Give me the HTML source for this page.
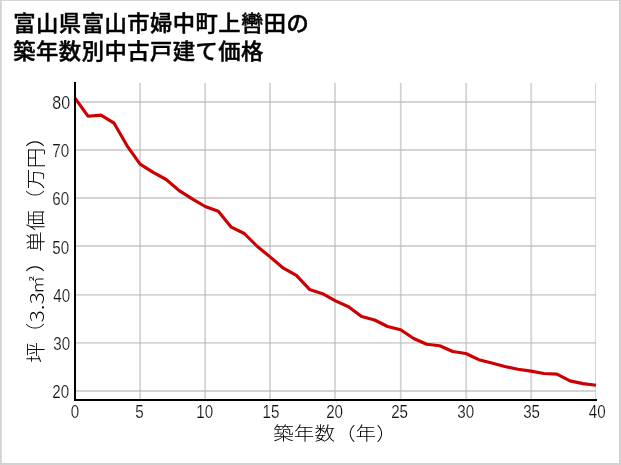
<!DOCTYPE html>
<html lang="ja">
<head>
<meta charset="utf-8">
<title>富山県富山市婦中町上轡田の築年数別中古戸建て価格</title>
<style>
html,body{margin:0;padding:0;background:#fff;}
body{width:621px;height:465px;overflow:hidden;position:relative;font-family:"Liberation Sans","Noto Sans CJK JP",sans-serif;}
h1{position:absolute;left:13.3px;top:10.8px;margin:0;font-family:"Liberation Sans","Noto Sans CJK JP",sans-serif;font-weight:500;font-size:22.3px;line-height:28.6px;color:#000;letter-spacing:0.48px;-webkit-text-stroke:0.45px #000;white-space:nowrap;transform-origin:0 0;transform:scaleY(0.95);}
svg{position:absolute;left:0;top:0;}
svg text{font-family:"Liberation Sans","Noto Sans CJK JP",sans-serif;}
.tick text{font-size:18.5px;fill:#111;stroke:#fff;stroke-width:0.18px;}
.lab{font-family:"Noto Sans CJK JP","Liberation Sans",sans-serif;font-size:20.6px;font-weight:300;fill:#000;}
</style>
</head>
<body>
<h1>富山県富山市婦中町上轡田の<br>築年数別中古戸建て価格</h1>
<svg width="621" height="465" viewBox="0 0 621 465">
<defs><clipPath id="cv"><rect x="75" y="80" width="521.6" height="322"/></clipPath><clipPath id="plot"><rect x="74" y="82.8" width="522" height="318.2"/></clipPath></defs>
<g fill="#d3d3d3">
<rect x="0" y="0" width="621" height="0.9"/>
<rect x="0" y="463" width="621" height="2"/>
<rect x="0" y="0" width="1.8" height="465"/>
<rect x="618.9" y="0" width="2.1" height="465"/>
</g>
<g stroke="#b7b7b7" stroke-opacity="0.6" stroke-width="1.85" fill="none" clip-path="url(#plot)"><line x1="140.10" y1="82.8" x2="140.10" y2="400"/><line x1="205.10" y1="82.8" x2="205.10" y2="400"/><line x1="270.00" y1="82.8" x2="270.00" y2="400"/><line x1="335.00" y1="82.8" x2="335.00" y2="400"/><line x1="400.80" y1="82.8" x2="400.80" y2="400"/><line x1="466.20" y1="82.8" x2="466.20" y2="400"/><line x1="531.20" y1="82.8" x2="531.20" y2="400"/><line x1="596.00" y1="82.8" x2="596.00" y2="400"/><line x1="75" y1="391.00" x2="596" y2="391.00"/><line x1="75" y1="342.80" x2="596" y2="342.80"/><line x1="75" y1="294.80" x2="596" y2="294.80"/><line x1="75" y1="246.00" x2="596" y2="246.00"/><line x1="75" y1="198.00" x2="596" y2="198.00"/><line x1="75" y1="150.00" x2="596" y2="150.00"/><line x1="75" y1="102.00" x2="596" y2="102.00"/></g>
<polyline clip-path="url(#cv)" points="75.0,98.1 88.0,116.2 101.0,115.1 114.1,123.2 127.1,145.8 140.1,164.1 153.2,172.3 166.2,179.5 179.2,190.6 192.2,198.8 205.2,206.5 218.3,211.3 231.3,227.2 244.3,233.5 257.4,246.5 270.4,257.1 283.4,268.2 296.4,275.4 309.5,289.4 322.5,293.7 335.5,300.9 348.5,306.7 361.6,316.6 374.6,320.0 387.6,326.5 400.6,329.8 413.7,338.5 426.7,344.3 439.7,345.7 452.7,351.5 465.8,353.5 478.8,359.7 491.8,363.1 504.8,366.5 517.9,369.3 530.9,371.1 543.9,373.5 556.9,374.1 570.0,380.9 583.0,383.6 596.0,385.2" fill="none" stroke="#cc0000" stroke-width="3.15" stroke-linejoin="round" stroke-linecap="butt"/>
<line x1="75" y1="82" x2="75" y2="401" stroke="#000" stroke-width="2"/>
<line x1="74" y1="400" x2="597" y2="400" stroke="#000" stroke-width="2"/>
<g class="tick"><text transform="translate(69.10,398.40) scale(0.820,1)" text-anchor="end">20</text><text transform="translate(70.20,350.24) scale(0.820,1)" text-anchor="end">30</text><text transform="translate(70.20,302.07) scale(0.820,1)" text-anchor="end">40</text><text transform="translate(69.10,253.90) scale(0.820,1)" text-anchor="end">50</text><text transform="translate(69.20,204.63) scale(0.820,1)" text-anchor="end">60</text><text transform="translate(69.20,156.54) scale(0.820,1)" text-anchor="end">70</text><text transform="translate(70.20,109.25) scale(0.869,1)" text-anchor="end">80</text><text transform="translate(74.90,418.2) scale(0.82,1)" text-anchor="middle">0</text><text transform="translate(139.43,418.2) scale(0.82,1)" text-anchor="middle">5</text><text transform="translate(204.75,418.2) scale(0.82,1)" text-anchor="middle">10</text><text transform="translate(270.88,418.2) scale(0.82,1)" text-anchor="middle">15</text><text transform="translate(334.60,418.2) scale(0.82,1)" text-anchor="middle">20</text><text transform="translate(399.62,418.2) scale(0.82,1)" text-anchor="middle">25</text><text transform="translate(465.75,418.2) scale(0.82,1)" text-anchor="middle">30</text><text transform="translate(531.57,418.2) scale(0.82,1)" text-anchor="middle">35</text><text transform="translate(597.30,418.2) scale(0.82,1)" text-anchor="middle">40</text></g>
<text class="lab" transform="translate(335,440.0) scale(1,0.875)" text-anchor="middle">築年数（年）</text>
<g transform="translate(43.0,244.8) rotate(-90) scale(1,0.925)">
<text class="lab" x="-117.96 -98.49" y="0">坪（</text>
<text class="lab" transform="translate(-77.7,1.3) scale(1.12,1.01)">3.3</text>
<text class="lab" x="-49.0 -27.44 -7.1 13.97 34.61 55.54 76.53 97.66" y="0"><tspan font-size="17.8">㎡</tspan>）単価（万円）</text>
</g>
</svg>
</body>
</html>
